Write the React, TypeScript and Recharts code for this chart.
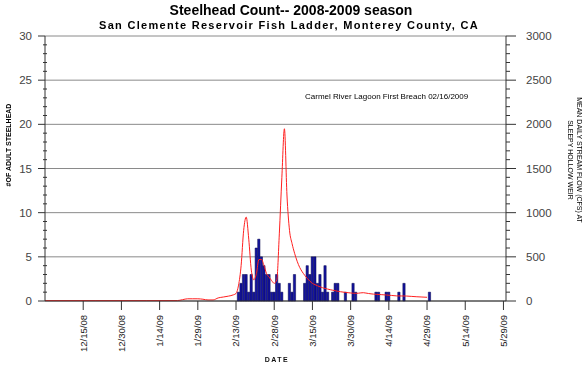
import { ComposedChart, Bar, Line, XAxis, YAxis, CartesianGrid } from "recharts";

// day 0 = 11/30/08
const countDays = [
  76, 77, 78, 79, 80, 81, 82, 83, 84, 85, 86, 87, 88, 89, 90, 91, 92, 93, 96, 97, 98, 102, 103, 104, 105, 106, 107, 108,
  109, 110, 111, 113, 114, 115, 118, 121, 122, 130, 131, 134, 135, 139, 141, 151,
];
const countValues = [
  1, 2, 3, 3, 1, 3, 1, 6, 7, 5, 4, 3, 3, 1, 1, 3, 2, 1, 2, 1, 3, 2, 4, 3, 5, 5, 2, 3, 1, 4, 1, 1, 2, 2, 1, 2, 1, 1, 1,
  1, 1, 1, 2, 1,
];

const flowDays = [
  0, 20, 40, 52, 54, 56, 58, 60, 62, 64, 66, 68, 70, 72, 74, 75, 76, 77, 78, 79, 80, 81, 82, 83, 84, 85, 86, 87, 88, 89,
  90, 91, 92, 93, 94, 95, 96, 97, 98, 99, 100, 101, 102, 103, 104, 105, 106, 107, 108, 109, 110, 111, 112, 113, 114, 115,
  116, 117, 118, 119, 120, 121, 122, 123, 124, 125, 126, 127, 128, 129, 130, 132, 134, 136, 138, 140, 142, 144, 146, 148,
  150,
];
const flowValues = [
  5, 5, 5, 5, 15, 25, 25, 25, 20, 12, 12, 35, 45, 55, 70, 85, 180, 400, 800, 950, 700, 350, 240, 310, 470, 470, 400, 310,
  270, 230, 200, 240, 760, 1400, 1950, 1200, 800, 650, 540, 450, 380, 330, 290, 255, 225, 200, 185, 172, 160, 150, 142,
  135, 128, 122, 116, 110, 105, 101, 97, 94, 91, 88, 87, 88, 92, 94, 90, 85, 81, 78, 76, 72, 68, 63, 58, 57, 56, 52, 48,
  45, 42,
];

const dateTicks = [15, 30, 45, 60, 75, 90, 105, 120, 135, 150, 165, 180];
const dateLabels = [
  "12/15/08", "12/30/08", "1/14/09", "1/29/09", "2/13/09", "2/28/09",
  "3/15/09", "3/30/09", "4/14/09", "4/29/09", "5/14/09", "5/29/09",
];
const countTicks = Array.from({ length: 31 }, (_, i) => i);
const flowTicks = Array.from({ length: 31 }, (_, i) => i * 100);
const gridValues = [0, 5, 10, 15, 20, 25, 30];

const allDays = Array.from(new Set([...countDays, ...flowDays])).sort((a, b) => a - b);
const data = allDays.map((day) => {
  const ci = countDays.indexOf(day);
  const fi = flowDays.indexOf(day);
  return {
    day,
    count: ci >= 0 ? countValues[ci] : undefined,
    flow: fi >= 0 ? flowValues[fi] : undefined,
  };
});

const font = "'Liberation Sans', Arial, sans-serif";
const axisColor = "#333";

const XTick = ({ x, y, payload }: any) => {
  const i = dateTicks.indexOf(payload.value);
  return (
    <text
      x={x}
      y={y}
      dy="0.35em"
      transform={`rotate(-90, ${x}, ${y})`}
      textAnchor="end"
      fontSize={9.5}
      fontFamily={font}
      fill="#222"
    >
      {dateLabels[i]}
    </text>
  );
};

const LeftTick = ({ x, y, payload }: any) => {
  const v = payload.value;
  const major = v % 5 === 0;
  return (
    <g>
      <line x1={major ? x - 7 : x - 2} x2={major ? x : x + 2} y1={y} y2={y} stroke={axisColor} />
      {major && (
        <text x={x - 13} y={y} dy="0.35em" textAnchor="end" fontSize={11.5} fontFamily={font} fill="#444">
          {v}
        </text>
      )}
    </g>
  );
};

const RightTick = ({ x, y, payload }: any) => {
  const v = payload.value;
  const major = v % 500 === 0;
  return (
    <g>
      <line x1={x} x2={x + (major ? 10 : 4)} y1={y} y2={y} stroke={axisColor} />
      {major && (
        <text x={x + 20} y={y} dy="0.35em" textAnchor="start" fontSize={11.5} fontFamily={font} fill="#444">
          {v}
        </text>
      )}
    </g>
  );
};

export default function App() {
  return (
    <div style={{ width: 570, height: 350 }}>
      <ComposedChart width={570} height={350} data={data} margin={{ top: 28, right: 0, bottom: 0, left: 0 }}>
        <CartesianGrid
          yAxisId="count"
          vertical={false}
          horizontalValues={gridValues}
          stroke="#8a8a8a"
        />
        <XAxis
          dataKey="day"
          type="number"
          domain={[0, 181]}
          ticks={dateTicks}
          interval={0}
          height={57}
          tickSize={9}
          tickMargin={5}
          tick={<XTick />}
          axisLine={{ stroke: axisColor }}
          tickLine={{ stroke: axisColor }}
        />
        <YAxis
          yAxisId="count"
          orientation="left"
          width={37}
          domain={[0, 30]}
          ticks={countTicks}
          interval={0}
          tickSize={0}
          tickMargin={0}
          tickLine={false}
          tick={<LeftTick />}
          axisLine={{ stroke: axisColor }}
        />
        <YAxis
          yAxisId="flow"
          orientation="right"
          width={72}
          domain={[0, 3000]}
          ticks={flowTicks}
          interval={0}
          tickSize={0}
          tickMargin={0}
          tickLine={false}
          tick={<RightTick />}
          axisLine={{ stroke: axisColor }}
        />
        <Bar
          yAxisId="count"
          dataKey="count"
          barSize={2.6}
          fill="#1414a0"
          stroke="#00004a"
          strokeWidth={0.5}
          isAnimationActive={false}
        />
        <Line
          yAxisId="flow"
          dataKey="flow"
          type="monotone"
          stroke="#ff2020"
          strokeWidth={1}
          dot={false}
          connectNulls
          isAnimationActive={false}
        />
      </ComposedChart>

      {/* titles and axis labels, in page coordinates */}
      <svg
        width={586}
        height={366}
        style={{ position: "fixed", left: 0, top: 0, pointerEvents: "none", zIndex: 2 }}
        fontFamily={font}
      >
        <text x={291} y={15} textAnchor="middle" fontSize={14} fontWeight="bold" fill="#000">
          Steelhead Count-- 2008-2009 season
        </text>
        <text x={289} y={29} textAnchor="middle" fontSize={11} fontWeight="bold" letterSpacing={1.3} fill="#000">
          San Clemente Reservoir Fish Ladder, Monterey County, CA
        </text>
        <text x={305} y={99} fontSize={8} fill="#000">
          Carmel River Lagoon First Breach 02/16/2009
        </text>
        <text
          x={8}
          y={145}
          transform="rotate(-90, 8, 145)"
          textAnchor="middle"
          dominantBaseline="central"
          fontSize={7}
          fontWeight="bold"
          fill="#000"
        >
          #OF ADULT STEELHEAD
        </text>
        <text
          x={579}
          y={160}
          transform="rotate(90, 579, 160)"
          textAnchor="middle"
          dominantBaseline="central"
          fontSize={7}
          fill="#000"
        >
          MEAN DAILY STREAM FLOW (CFS) AT
        </text>
        <text
          x={570}
          y={160}
          transform="rotate(90, 570, 160)"
          textAnchor="middle"
          dominantBaseline="central"
          fontSize={7}
          fill="#000"
        >
          SLEEPY HOLLOW WEIR
        </text>
        <text x={277} y={362} textAnchor="middle" fontSize={7} fontWeight="bold" letterSpacing={1.5} fill="#111">
          DATE
        </text>
      </svg>
    </div>
  );
}
